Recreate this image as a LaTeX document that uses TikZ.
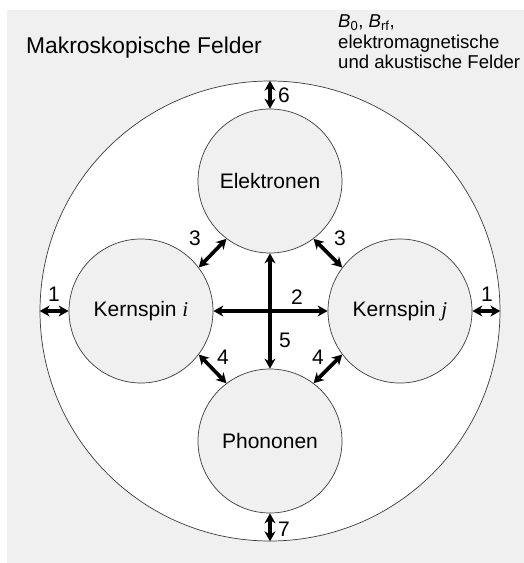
\documentclass[tikz,border=0pt]{standalone}
\usepackage{fontspec}
\setmainfont{Liberation Sans}
\newfontfamily\serfont{Liberation Serif}
\usetikzlibrary{arrows.meta}
\definecolor{bggray}{RGB}{240,240,240}
\definecolor{linegray}{RGB}{60,60,60}
\tikzset{
  ball/.style={circle, draw=linegray, line width=0.7pt, fill=bggray, inner sep=0pt, minimum size=144pt, font=\fontsize{21}{24}\selectfont},
  link/.style={line width=3.6pt, {Stealth[length=10pt,width=11pt]}-{Stealth[length=10pt,width=11pt]}},
  num/.style={font=\fontsize{21}{24}\selectfont, inner sep=0pt},
  small/.style={font=\fontsize{18.6}{20}\selectfont, anchor=base west, inner sep=0pt}
}
\begin{document}
\begin{tikzpicture}[x=1pt,y=-1pt]
\useasboundingbox (0,0) rectangle (524,563);
\fill[bggray] (7,10) rectangle (524,563);
\node[circle, draw=linegray, line width=0.7pt, fill=white, inner sep=0pt, minimum size=460pt] (outer) at (270,311) {};
\node[ball] (el) at (270,181) {Elektronen};
\node[ball] (ki) at (141,311) {Kernspin {\serfont\itshape i}};
\node[ball] (kj) at (400,311) {Kernspin {\serfont\itshape j}};
\node[ball] (ph) at (270,441) {Phononen};
\node[anchor=base west, inner sep=0pt, font=\fontsize{22.8}{26}\selectfont] (title) at (26,53) {Makroskopische Felder};
\node[small] (f1) at (338,27) {{\itshape B}\textsubscript{0}, {\itshape B}\textsubscript{rf},};
\node[small] (f2) at (338,48) {elektromagnetische};
\node[small] (f3) at (338,68) {und akustische Felder};
\draw[link] (outer.west) -- (ki.west);
\draw[link] (kj.east) -- (outer.east);
\draw[link] (outer.north) -- (el.north);
\draw[link] (ph.south) -- (outer.south);
\draw[link] (ki.east) -- (kj.west);
\draw[link] (el.south) -- (ph.north);
\draw[link] (el.233) -- (ki.37);
\draw[link] (el.-53) -- (kj.143);
\draw[link] (ki.-37) -- (ph.127);
\draw[link] (kj.-143) -- (ph.53);
\node[num] (n1l) at (54,294) {1};
\node[num] (n1r) at (487,294) {1};
\node[num] (n6) at (284,95) {6};
\node[num] (n7) at (284,529) {7};
\node[num] (n2) at (297,297) {2};
\node[num] (n5) at (285,340) {5};
\node[num] (n3l) at (195,238) {3};
\node[num] (n3r) at (340,238) {3};
\node[num] (n4l) at (223,357) {4};
\node[num] (n4r) at (318,357) {4};
\end{tikzpicture}
\end{document}
